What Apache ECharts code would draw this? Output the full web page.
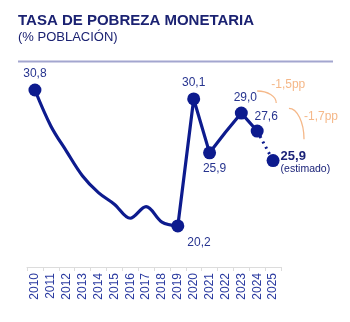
<!DOCTYPE html>
<html>
<head>
<meta charset="utf-8">
<script src="https://cdn.jsdelivr.net/npm/echarts@6/dist/echarts.min.js"></script>
<style>html,body{margin:0;padding:0;background:#fff}#c{width:350px;height:322px}</style>
</head>
<body>
<div id="c"></div>
<script>
const years = ['2010','2011','2012','2013','2014','2015','2016','2017','2018','2019','2020','2021','2022','2023','2024','2025'];
// poverty rate as drawn (2025 is the estimate)
const rate = [30.8, 28.0, 26.0, 24.1, 22.8, 21.9, 20.8, 21.7, 20.5, 20.2, 30.1, 25.9, 27.5, 29.0, 27.6, 25.3];
const markerYears = ['2010','2019','2020','2021','2023','2024','2025'];
const markerLabels = ['30,8','20,2','30,1','25,9','29,0','27,6','25,9'];
const estimateNote = '(estimado)';
const changeLabels = ['-1,5pp', '-1,7pp'];

const NAVY = '#0d1b8e';
const LABEL = '#27348f';
const ORANGE = '#f5b889';
const FONT = 'Liberation Sans, Arial, sans-serif';

const iSmoothEnd = years.indexOf('2019');
const iEst = years.indexOf('2024');
const smoothPart = rate.map((v, i) => i <= iSmoothEnd ? v : null);
const solidPart = rate.map((v, i) => (i >= iSmoothEnd && i <= iEst) ? v : null);
const estPart = rate.map((v, i) => i >= iEst ? v : null);

const labelStyle = {
  '2010': { position: 'top', distance: 4 },
  '2019': { position: 'right', offset: [-2, 17] },
  '2020': { position: 'top', distance: 4 },
  '2021': { position: 'bottom', distance: 3, offset: [5, 0] },
  '2023': { position: 'top', distance: 3, offset: [4, 0] },
  '2024': { position: 'top', distance: 3, offset: [9, 1] },
  '2025': { position: 'right', distance: 1, offset: [0, 2] }
};

const markerData = years.map((y, i) => {
  const k = markerYears.indexOf(y);
  if (k < 0) return null;
  const ls = labelStyle[y];
  const label = Object.assign({ show: true, color: LABEL, fontSize: 12, fontFamily: FONT }, ls);
  if (y === '2025') {
    label.formatter = '{b|' + markerLabels[k] + '}\n{s|' + estimateNote + '}';
    label.rich = {
      b: { fontSize: 13, fontWeight: 'bold', color: '#1a2278', lineHeight: 14, fontFamily: FONT },
      s: { fontSize: 10.5, color: '#1a2278', lineHeight: 12, fontFamily: FONT }
    };
  } else {
    label.formatter = markerLabels[k];
  }
  return { value: rate[i], label: label };
});

const chart = echarts.init(document.getElementById('c'), null, { renderer: 'canvas' });
chart.setOption({
  animation: false,
  title: {
    text: 'TASA DE POBREZA MONETARIA',
    subtext: '(% POBLACIÓN)',
    left: 13, top: 8, itemGap: 3,
    textStyle: { fontSize: 15, fontWeight: 'bold', color: '#1b2272', fontFamily: FONT },
    subtextStyle: { fontSize: 13, color: '#1b2272', fontFamily: FONT }
  },
  grid: { left: 27, right: 69, top: 74.6, bottom: 55, containLabel: false },
  xAxis: {
    type: 'category', data: years, boundaryGap: true,
    axisLine: { lineStyle: { color: '#dcdcdc', width: 1 } },
    axisTick: { show: true, length: 4, lineStyle: { color: '#dcdcdc' } },
    axisLabel: { rotate: 90, interval: 0, fontSize: 12, color: '#2a3aa0', margin: 6, fontFamily: FONT }
  },
  yAxis: { type: 'value', min: 17, max: 32, show: false, splitLine: { show: false } },
  series: [
    { type: 'line', data: smoothPart, smooth: 0.35, symbol: 'none', lineStyle: { color: NAVY, width: 3.2 }, z: 2 },
    { type: 'line', data: solidPart, smooth: false, symbol: 'none', lineStyle: { color: NAVY, width: 3.2 }, z: 2 },
    { type: 'line', data: estPart, smooth: false, symbol: 'none', lineStyle: { color: NAVY, width: 3, type: [2, 4] }, z: 2 },
    { type: 'scatter', data: markerData, symbol: 'circle', symbolSize: 13, itemStyle: { color: NAVY, opacity: 1 }, z: 3 }
  ]
});

// change annotations, anchored to axis positions
function px(idx, val) { return chart.convertToPixel({ gridIndex: 0 }, [idx, val]); }
function quarter(s, e) {
  const k = 0.5523;
  return { x1: s[0], y1: s[1], x2: e[0], y2: e[1], cpx1: s[0] + k * (e[0] - s[0]), cpy1: s[1], cpx2: e[0], cpy2: e[1] - k * (e[1] - s[1]) };
}
const step = px(1, 20)[0] - px(0, 20)[0];
const a1s = [px(iEst, 30.72)[0], px(iEst, 30.72)[1]];
const a1e = [px(iEst, 29.79)[0] + 1.2 * step, px(iEst, 29.79)[1]];
const a2s = [px(iEst, 29.37)[0] + 2.0 * step, px(iEst, 29.37)[1]];
const a2e = [px(iEst, 26.95)[0] + 2.95 * step, px(iEst, 26.95)[1]];
chart.setOption({
  graphic: [
    { type: 'line', shape: { x1: 18, y1: 61.5, x2: 333, y2: 61.5 }, style: { stroke: '#a3a6cf', lineWidth: 2 } },
    { type: 'bezierCurve', shape: quarter(a1s, a1e), style: { stroke: ORANGE, lineWidth: 1.3, fill: null } },
    { type: 'bezierCurve', shape: quarter(a2s, a2e), style: { stroke: ORANGE, lineWidth: 1.3, fill: null } },
    { type: 'text', x: a1e[0] + 12, y: a1s[1] - 6, style: { text: changeLabels[0], fill: ORANGE, fontSize: 12, align: 'center', verticalAlign: 'middle', fontFamily: FONT } },
    { type: 'text', x: a2e[0] + 17, y: a2s[1] + 8.5, style: { text: changeLabels[1], fill: ORANGE, fontSize: 12, align: 'center', verticalAlign: 'middle', fontFamily: FONT } }
  ]
});
</script>
</body>
</html>
